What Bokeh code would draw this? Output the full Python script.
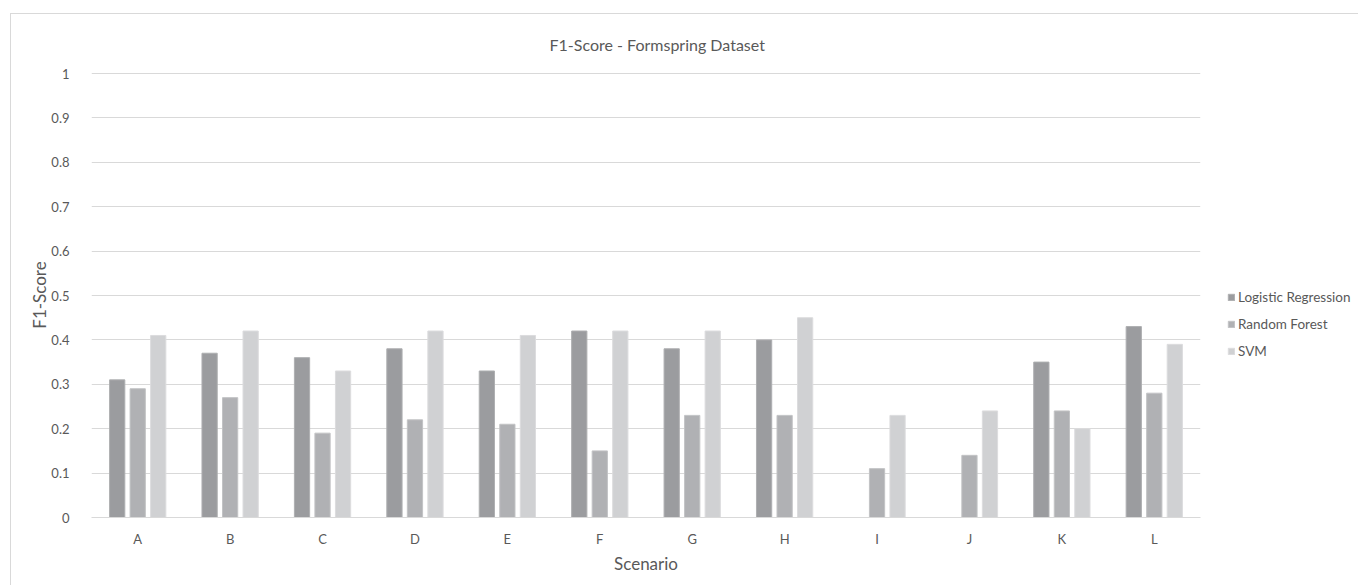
from bokeh.plotting import figure
from bokeh.models import ColumnDataSource, FactorRange, FixedTicker, CustomJSTickFormatter, Legend, LegendItem
from bokeh.transform import dodge
from bokeh.embed import file_html
from bokeh.resources import INLINE

scenarios = ["A", "B", "C", "D", "E", "F", "G", "H", "I", "J", "K", "L"]
logistic_regression = [0.31, 0.37, 0.36, 0.38, 0.33, 0.42, 0.38, 0.40, None, None, 0.35, 0.43]
random_forest = [0.29, 0.27, 0.19, 0.22, 0.21, 0.15, 0.23, 0.23, 0.11, 0.14, 0.24, 0.28]
svm = [0.41, 0.42, 0.33, 0.42, 0.41, 0.42, 0.42, 0.45, 0.23, 0.24, 0.20, 0.39]
y_ticks = [0, 0.1, 0.2, 0.3, 0.4, 0.5, 0.6, 0.7, 0.8, 0.9, 1.0]

def clean(v):
    return [float("nan") if x is None else x for x in v]

source = ColumnDataSource(data=dict(
    x=scenarios,
    lr=clean(logistic_regression),
    rf=clean(random_forest),
    svm=clean(svm),
))

FONT = "Lato"
TXT = "#595959"

p = figure(
    x_range=FactorRange(*scenarios, range_padding=0),
    y_range=(0, 1.0023),
    frame_width=1109, frame_height=445,
    output_backend="svg", toolbar_location=None,
    min_border_left=80, min_border_right=157, min_border_top=58, min_border_bottom=68,
    title="F1-Score - Formspring Dataset",
)
p.margin = (13, 0, 0, 10)
p.styles = {"border": "1px solid #d9d9d9", "border-bottom": "none"}
p.outline_line_color = None
p.background_fill_color = "white"
p.border_fill_color = "white"

p.title.text_font = FONT
p.title.text_font_size = "16px"
p.title.text_font_style = "normal"
p.title.text_color = TXT
p.title.align = "left"
p.title.offset = 458
p.title.standoff = 37

w = 0.165
cols = [("lr", "#9b9c9f", "#aeafb1", "Logistic Regression", -0.222),
        ("rf", "#b0b1b4", "#c2c3c5", "Random Forest", 0.0),
        ("svm", "#d0d1d3", "#dcdcde", "SVM", 0.222)]
items = []
for key, fc, lc, name, off in cols:
    r = p.vbar(x=dodge("x", off, range=p.x_range), top=key, width=w, source=source,
               fill_color=fc, line_color=lc, line_width=1)
    items.append(LegendItem(label=name, renderers=[r]))

p.yaxis.ticker = FixedTicker(ticks=y_ticks)
p.yaxis.formatter = CustomJSTickFormatter(code="return tick.toFixed(1).replace(/\\.0$/, '');")
p.yaxis.axis_line_color = None
p.yaxis.major_tick_line_color = None
p.yaxis.minor_tick_line_color = None
p.yaxis.major_label_standoff = 16
p.yaxis.major_label_text_font = FONT
p.yaxis.major_label_text_font_size = "13px"
p.yaxis.major_label_text_color = TXT
p.yaxis.axis_label = "F1-Score"
p.yaxis.axis_label_text_font = FONT
p.yaxis.axis_label_text_font_size = "17px"
p.yaxis.axis_label_text_font_style = "normal"
p.yaxis.axis_label_text_color = TXT
p.yaxis.axis_label_standoff = -2

p.xaxis.axis_line_color = "#d9d9d9"
p.xaxis.major_tick_line_color = None
p.xaxis.minor_tick_line_color = None
p.xaxis.major_label_standoff = 7
p.xaxis.major_label_text_font = FONT
p.xaxis.major_label_text_font_size = "13px"
p.xaxis.major_label_text_color = TXT
p.xaxis.axis_label = "Scenario"
p.xaxis.axis_label_text_font = FONT
p.xaxis.axis_label_text_font_size = "17px"
p.xaxis.axis_label_text_font_style = "normal"
p.xaxis.axis_label_text_color = TXT
p.xaxis.axis_label_standoff = 3

p.xgrid.grid_line_color = None
p.ygrid.grid_line_color = "#d9d9d9"

legend = Legend(items=items, location=(27, 156), orientation="vertical",
                label_text_font=FONT, label_text_font_size="13.5px", label_text_color=TXT,
                glyph_width=8, glyph_height=8, label_standoff=3, spacing=7,
                padding=0, margin=0, border_line_color=None, background_fill_alpha=0,
                label_height=20)
p.add_layout(legend, "right")

open("out.html", "w").write(file_html(p, INLINE))
